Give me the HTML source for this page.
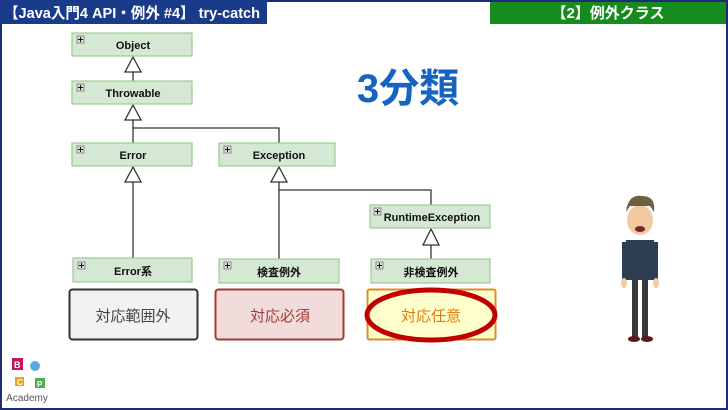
<!DOCTYPE html>
<html><head><meta charset="utf-8"><style>
html,body{margin:0;padding:0;background:#fff}
svg{display:block}
text{font-family:"Liberation Sans","Noto Sans CJK JP",sans-serif}
</style></head><body>
<svg width="728" height="410" viewBox="0 0 728 410" xmlns="http://www.w3.org/2000/svg">
<rect x="1" y="1" width="726" height="408" fill="#fff" stroke="#1f2a7a" stroke-width="2"/>
<rect x="0" y="0" width="267" height="24" fill="#1a3a8a"/>
<text x="4" y="18" font-size="15" font-weight="bold" fill="#fff" textLength="256" lengthAdjust="spacingAndGlyphs">【Java入門4 API・例外 #4】 try-catch</text>
<rect x="490" y="2" width="236" height="22" fill="#168c1e"/>
<text x="608" y="18" font-size="15" font-weight="bold" fill="#fff" text-anchor="middle">【2】例外クラス</text>
<text x="408" y="102" font-size="40" font-weight="bold" fill="#1565c0" text-anchor="middle">3分類</text>

<g stroke="#333" stroke-width="1.3" fill="none">
<line x1="133" y1="72" x2="133" y2="81"/>
<line x1="133" y1="120" x2="133" y2="143"/>
<polyline points="133,128 279,128 279,143"/>
<line x1="133" y1="182" x2="133" y2="258"/>
<line x1="279" y1="182" x2="279" y2="259"/>
<polyline points="279,190 431,190 431,205"/>
<line x1="431" y1="245" x2="431" y2="259"/>
</g>
<g stroke="#333" stroke-width="1.3" fill="#fff">
<polygon points="133,57 125,72 141,72"/>
<polygon points="133,105 125,120 141,120"/>
<polygon points="133,167 125,182 141,182"/>
<polygon points="279,167 271,182 287,182"/>
<polygon points="431,229 423,245 439,245"/>
</g>

<g font-size="11" font-weight="bold" fill="#111" text-anchor="middle">
<g fill="#d5e8d4" stroke="#9ccc8f" stroke-width="1.2">
<rect x="72" y="33" width="120" height="23"/>
<rect x="72" y="81" width="120" height="23"/>
<rect x="72" y="143" width="120" height="23"/>
<rect x="219" y="143" width="116" height="23"/>
<rect x="370" y="205" width="120" height="23"/>
<rect x="73" y="258" width="119" height="24"/>
<rect x="219" y="259" width="120" height="24"/>
<rect x="371" y="259" width="119" height="24"/>
</g>
<g fill="#ddd" stroke="#777" stroke-width="0.8">
<rect x="77" y="36" width="7" height="7"/><rect x="77" y="84" width="7" height="7"/>
<rect x="77" y="146" width="7" height="7"/><rect x="224" y="146" width="7" height="7"/>
<rect x="374" y="208" width="7" height="7"/><rect x="78" y="262" width="7" height="7"/>
<rect x="224" y="262" width="7" height="7"/><rect x="376" y="262" width="7" height="7"/>
</g>
<g stroke="#111" stroke-width="1">
<path d="M78 39.5h5M80.5 37v5M78 87.5h5M80.5 85v5M78 149.5h5M80.5 147v5M225 149.5h5M227.5 147v5M375 211.5h5M377.5 209v5M79 265.5h5M81.5 263v5M225 265.5h5M227.5 263v5M377 265.5h5M379.5 263v5"/>
</g>
<text x="133" y="49">Object</text>
<text x="133" y="97">Throwable</text>
<text x="133" y="159">Error</text>
<text x="279" y="159">Exception</text>
<text x="432" y="221">RuntimeException</text>
<text x="133" y="275">Error系</text>
<text x="279" y="276">検査例外</text>
<text x="431" y="276">非検査例外</text>
</g>

<rect x="69.5" y="289.5" width="128" height="50" rx="3" fill="#f2f2f2" stroke="#333" stroke-width="2"/>
<text x="133" y="321" font-size="15" fill="#444" text-anchor="middle">対応範囲外</text>
<rect x="215.5" y="289.5" width="128" height="50" rx="3" fill="#f2dcdb" stroke="#a33a3a" stroke-width="2"/>
<text x="280" y="321" font-size="15" fill="#a33a3a" text-anchor="middle">対応必須</text>
<rect x="367.5" y="289.5" width="128" height="50" rx="2" fill="#ffffcc" stroke="#e58a2a" stroke-width="2"/>
<ellipse cx="431" cy="315" rx="64" ry="25" fill="#ffffcc" stroke="#c00000" stroke-width="5"/>
<text x="431" y="321" font-size="15" fill="#e07a10" text-anchor="middle">対応任意</text>

<g>
<ellipse cx="640" cy="220" rx="13" ry="15" fill="#f2c9a0"/>
<path d="M626 212 q2 -18 16 -16 q14 0 12 16 l-4 -6 -20 0z" fill="#6b6040"/>
<ellipse cx="640" cy="229" rx="5" ry="3" fill="#7a2030"/>
<path d="M626 240 l28 0 4 40 -36 0z" fill="#2c3e50"/>
<rect x="622" y="242" width="6" height="36" fill="#2c3e50"/>
<rect x="652" y="242" width="6" height="36" fill="#2c3e50"/>
<rect x="632" y="280" width="6" height="58" fill="#3a3a3a"/>
<rect x="642" y="280" width="6" height="58" fill="#3a3a3a"/>
<ellipse cx="634" cy="339" rx="6" ry="3" fill="#5a1a1a"/>
<ellipse cx="647" cy="339" rx="6" ry="3" fill="#5a1a1a"/>
<ellipse cx="624" cy="283" rx="3" ry="5" fill="#f2c9a0"/>
<ellipse cx="656" cy="283" rx="3" ry="5" fill="#f2c9a0"/>
</g>

<g font-size="9" font-weight="bold" fill="#fff">
<rect x="12" y="358" width="11" height="12" fill="#c2185b"/><text x="14" y="368">B</text>
<circle cx="35" cy="366" r="5" fill="#5aa9e0"/>
<rect x="15" y="377" width="9" height="9" fill="#e6a817"/><text x="17" y="385" font-size="8">C</text>
<rect x="35" y="378" width="10" height="10" fill="#4caf50"/><text x="37" y="387" font-size="8">P</text>
</g>
<text x="27" y="401" font-size="10" fill="#555" text-anchor="middle">Academy</text>
</svg>
</body></html>
